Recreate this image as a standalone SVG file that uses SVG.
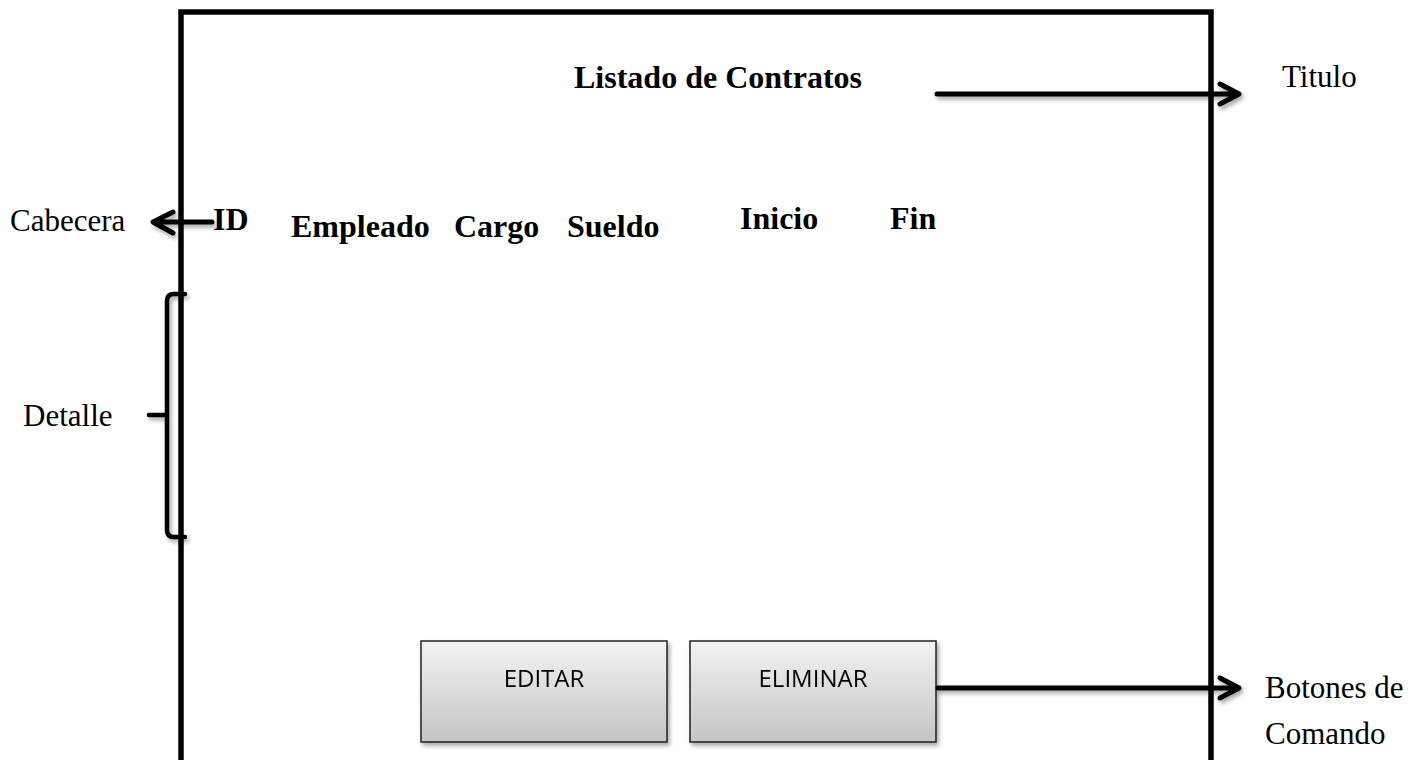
<svg xmlns="http://www.w3.org/2000/svg" width="1419" height="760" viewBox="0 0 1419 760">
<style>
.ln{fill:none;stroke:#000;stroke-width:5;stroke-linecap:round;stroke-linejoin:round}
.fr{fill:none;stroke:#000;stroke-width:5.5;stroke-linejoin:miter}
.hd{font-family:"Liberation Serif","Times New Roman",serif;font-weight:bold;font-size:32px;fill:#000}
.lb{font-family:"Liberation Serif","Times New Roman",serif;font-size:31px;fill:#000}
.bt{font-family:"Open Sans","Liberation Sans",sans-serif;font-size:24px;fill:#000;text-anchor:middle}
.btn{fill:url(#g);stroke:#222;stroke-width:1.5}
</style>
<defs>
<linearGradient id="g" x1="0" y1="0" x2="0" y2="1">
<stop offset="0" stop-color="#f3f3f3"/>
<stop offset="1" stop-color="#c4c4c4"/>
</linearGradient>
<filter id="sh" x="-10%" y="-10%" width="130%" height="140%">
<feDropShadow dx="2" dy="3" stdDeviation="2" flood-color="#000" flood-opacity="0.35"/>
</filter>
</defs>
<rect width="1419" height="760" fill="#fff"/>
<g id="frame">
<path class="fr" d="M181 770 V12 H1211 V770"/>
</g>
<g id="title">
<text class="hd" x="718" y="88" text-anchor="middle">Listado de Contratos</text>
</g>
<g id="headers">
<text class="hd" x="213" y="230">ID</text>
<text class="hd" x="291" y="237">Empleado</text>
<text class="hd" x="454" y="237">Cargo</text>
<text class="hd" x="567" y="237">Sueldo</text>
<text class="hd" x="740" y="229">Inicio</text>
<text class="hd" x="890" y="229">Fin</text>
</g>
<g id="btn-editar" filter="url(#sh)">
<rect class="btn" x="421" y="641" width="246" height="101"/>
<text class="bt" x="544" y="687">EDITAR</text>
</g>
<g id="btn-eliminar" filter="url(#sh)">
<rect class="btn" x="690" y="641" width="246" height="101"/>
<text class="bt" x="813" y="687">ELIMINAR</text>
</g>
<g id="label-titulo"><text class="lb" x="1282" y="87">Titulo</text></g>
<g id="label-cabecera"><text class="lb" x="10" y="231">Cabecera</text></g>
<g id="label-detalle"><text class="lb" x="23" y="426">Detalle</text></g>
<g id="label-botones">
<text class="lb" x="1265" y="698">Botones de</text>
<text class="lb" x="1265" y="744">Comando</text>
</g>
<g id="connectors" filter="url(#sh)">
<path class="ln" d="M937 94 H1238 M1220 84 L1239 94 L1220 104"/>
<path class="ln" d="M212 222 H154 M173 212 L153 222 L173 233"/>
<path class="ln" d="M938 688 H1238 M1220 678 L1239 688 L1220 698"/>
<path class="ln" d="M185 294 H174 Q167 294 167 301 V530 Q167 537 174 537 H185 M149 415 H167" style="stroke-width:4.5"/>
</g>
</svg>
